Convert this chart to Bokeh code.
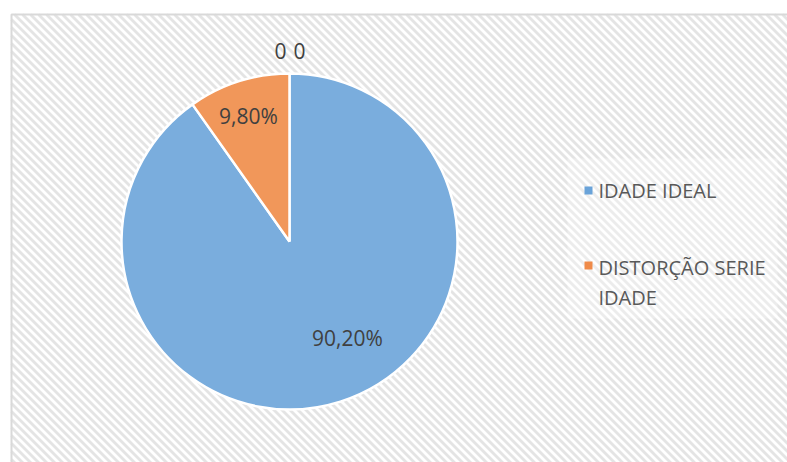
import math
import numpy as np
from bokeh.plotting import figure
from bokeh.models import Range1d, ColumnDataSource
from bokeh.core.properties import value
from bokeh.embed import file_html
from bokeh.resources import INLINE

# ---- data ----
categories = ["IDADE IDEAL", "DISTORÇÃO SERIE IDADE"]
legend_text = ["IDADE IDEAL", "DISTORÇÃO SERIE\nIDADE"]
shares = [90.2, 9.8]
share_labels = ["90,20%", "9,80%"]
zero_labels = ["0", "0"]

# ---- styles / layout ----
colors = ["#7aaddd", "#f1975a"]
legend_colors = ["#6aa3d9", "#ef8a48"]
W, H = 787, 462
cx, cy, R = 289, 221, 168
AX0, AX1, AY0, AY1 = 11, W + 5, -5, 448  # chart area

p = figure(width=W, height=H, output_backend="svg", toolbar_location=None,
           x_range=Range1d(0, W), y_range=Range1d(0, H),
           x_axis_location=None, y_axis_location=None, min_border=0,
           background_fill_color="white", border_fill_color="white")
p.outline_line_color = None
p.grid.visible = False

# chart area background with diagonal stripes (decoration)
p.quad(left=[AX0], right=[AX1], top=[AY1], bottom=[AY0],
       fill_color="white", line_color=None)
step = 8
cs = np.arange(AX0 + AY0, AX1 + AY1 + step, step)
xs, ys = [], []
for c in cs:
    xa = max(AX0, c - AY1)
    xb = min(AX1, c - AY0)
    if xb <= xa:
        continue
    xs.append([xa, xb])
    ys.append([c - xa, c - xb])
p.multi_line(xs=xs, ys=ys, line_color="#e4e4e4", line_width=2.8)
p.quad(left=[AX0], right=[AX1], top=[AY1], bottom=[AY0],
       fill_color=None, line_color="#d9d9d9", line_width=2)

# legend background
p.quad(left=[567], right=[777], top=[304], bottom=[144],
       fill_color="white", fill_alpha=0.3, line_color=None)

# pie wedges: first slice clockwise from 12 o'clock, second CCW from 12 o'clock
total = sum(shares)
fracs = [s / total for s in shares]
ang_o = fracs[1] * 2 * math.pi
starts = [math.pi / 2 + ang_o, math.pi / 2]
ends = [math.pi / 2 + 2 * math.pi, math.pi / 2 + ang_o]
src = ColumnDataSource(dict(cat=categories, start=starts, end=ends, color=colors))
p.wedge(x=cx, y=cy, radius=R, start_angle="start", end_angle="end",
        fill_color="color", line_color="white", line_width=2.5, source=src)

# slice labels
label_off = [(58, -96), (-41, 126)]
p.text(x=[cx + o[0] for o in label_off], y=[cy + o[1] for o in label_off],
       text=share_labels, text_font=value("Open Sans"), text_font_size="21px",
       text_color="#404040", text_align="center", text_baseline="middle")

zero_off = [(-9, 191), (10, 191)]
p.text(x=[cx + o[0] for o in zero_off], y=[cy + o[1] for o in zero_off],
       text=zero_labels, text_font=value("Open Sans"), text_font_size="21px",
       text_color="#404040", text_align="center", text_baseline="middle")

# legend
p.scatter(x=[588, 588], y=[272, 197], marker="square", size=8,
          fill_color=legend_colors, line_color=None)
p.text(x=[598, 598], y=[272, 180], text=legend_text,
       text_font=value("Open Sans"), text_font_size="20px",
       text_color="#595959", text_align="left", text_baseline="middle",
       text_line_height=1.08)

open("out.html", "w").write(file_html(p, INLINE))
